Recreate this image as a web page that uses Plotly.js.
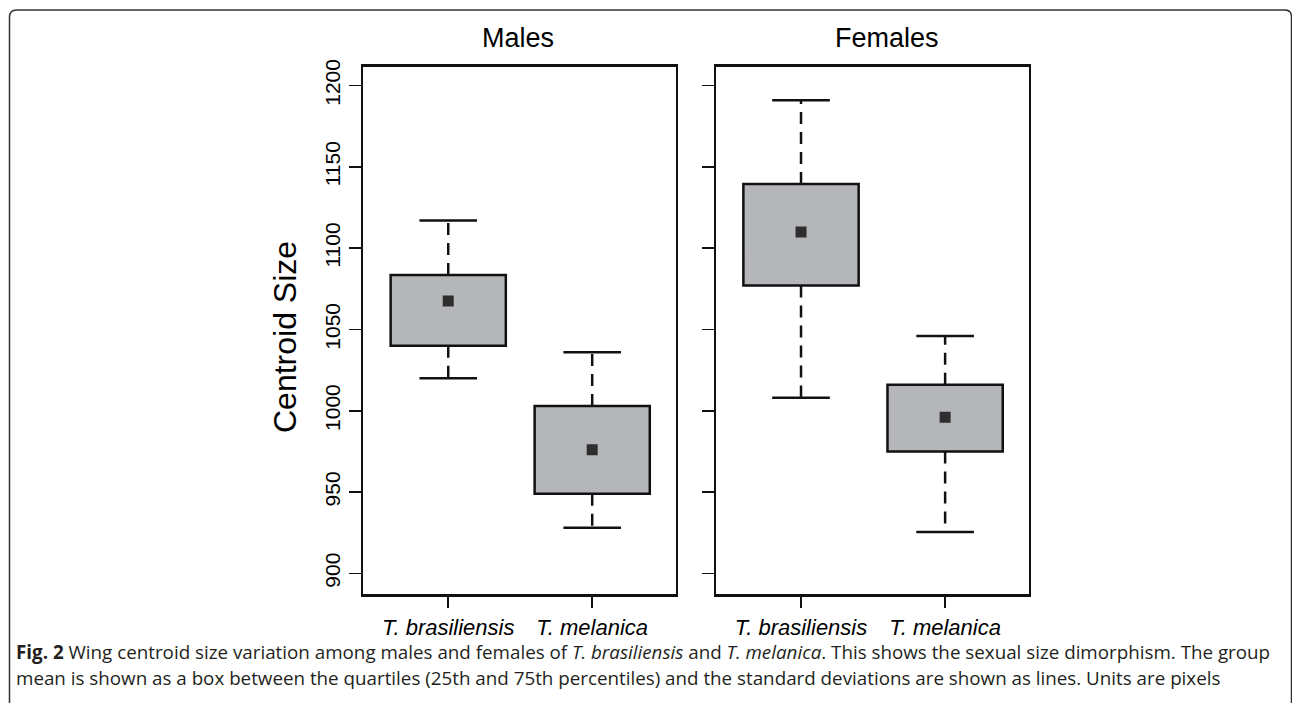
<!DOCTYPE html>
<html>
<head>
<meta charset="utf-8">
<script src="https://cdn.plot.ly/plotly-3.0.1.min.js"></script>
<style>
  html, body { margin: 0; padding: 0; background: #ffffff; }
  #chart { width: 1292px; height: 703px; }
</style>
</head>
<body>
<div id="chart"></div>
<script>
// ---- data ----
const species = ['T. brasiliensis', 'T. melanica'];
const speciesPos = [1, 2];
const yTicks = [900, 950, 1000, 1050, 1100, 1150, 1200];

const maleLower = [1020, 928];
const maleQ1    = [1040, 949];
const maleMean  = [1067.5, 976];
const maleQ3    = [1083.5, 1003];
const maleUpper = [1117, 1036];

const femaleLower = [1008, 925.5];
const femaleQ1    = [1077, 975];
const femaleMean  = [1110, 996];
const femaleQ3    = [1139.5, 1016];
const femaleUpper = [1191, 1046];

// ---- styling ----
const BOX_W = 0.8, CAP_HALF = 0.2;
const boxFill = '#b5b6b9';
const ink = '#111111';

function panelTraces(lower, q1, mean, q3, upper, xa, ya) {
  const wx = [], wy = [], cx = [], cy = [];
  speciesPos.forEach((p, i) => {
    wx.push(p, p, null, p, p, null);
    wy.push(q3[i], upper[i], null, q1[i], lower[i], null);
    cx.push(p - CAP_HALF, p + CAP_HALF, null, p - CAP_HALF, p + CAP_HALF, null);
    cy.push(upper[i], upper[i], null, lower[i], lower[i], null);
  });
  return [
    { type: 'bar', x: speciesPos, base: q1, y: q3.map((v, i) => v - q1[i]),
      width: BOX_W, xaxis: xa, yaxis: ya,
      marker: { color: boxFill, line: { color: ink, width: 2.5 } },
      hoverinfo: 'skip', showlegend: false },
    { type: 'scatter', mode: 'lines', x: wx, y: wy, xaxis: xa, yaxis: ya,
      line: { color: ink, width: 2.5, dash: '12px,8px' }, hoverinfo: 'skip', showlegend: false },
    { type: 'scatter', mode: 'lines', x: cx, y: cy, xaxis: xa, yaxis: ya,
      line: { color: ink, width: 2.5 }, hoverinfo: 'skip', showlegend: false },
    { type: 'scatter', mode: 'markers', x: speciesPos, y: mean, xaxis: xa, yaxis: ya,
      marker: { symbol: 'square', size: 11, color: '#2e2e2e' }, hoverinfo: 'skip', showlegend: false }
  ];
}

const data = [
  ...panelTraces(maleLower, maleQ1, maleMean, maleQ3, maleUpper, 'x', 'y'),
  ...panelTraces(femaleLower, femaleQ1, femaleMean, femaleQ3, femaleUpper, 'x2', 'y2')
];

const W = 1292, H = 703;
const px = v => v / W, py = v => 1 - v / H;

const xCommon = {
  range: [0.41, 2.58], tickmode: 'array', tickvals: speciesPos, ticktext: species,
  showline: true, linecolor: ink, linewidth: 2.5, mirror: true,
  ticks: 'outside', ticklen: 11, tickwidth: 1.5, tickcolor: ink,
  showgrid: false, zeroline: false, fixedrange: true,
  tickangle: 0, ticklabelstandoff: 1,
  tickfont: { family: 'Liberation Sans, Arial, sans-serif', size: 22, style: 'italic', color: '#000' }
};
const yCommon = {
  range: [887.3, 1211.6], tickmode: 'array', tickvals: yTicks,
  showline: true, linecolor: ink, linewidth: 2.5, mirror: true,
  ticks: 'outside', ticklen: 12, tickwidth: 1.5, tickcolor: ink,
  showgrid: false, zeroline: false, fixedrange: true,
  tickangle: -90,
  tickfont: { family: 'Liberation Sans, Arial, sans-serif', size: 21, color: '#000' },
  domain: [py(594), py(66.7)]
};

const capFont = { family: 'Open Sans, Noto Sans, sans-serif', size: 18.8, color: '#231f20' };

const layout = {
  width: W, height: H,
  margin: { l: 0, r: 0, t: 0, b: 0 },
  paper_bgcolor: '#ffffff', plot_bgcolor: '#ffffff',
  showlegend: false, bargap: 0,
  xaxis:  Object.assign({}, xCommon, { domain: [px(363.3), px(675.7)], anchor: 'y' }),
  xaxis2: Object.assign({}, xCommon, { domain: [px(716), px(1028.7)], anchor: 'y2' }),
  yaxis:  Object.assign({}, yCommon, { anchor: 'x' }),
  yaxis2: Object.assign({}, yCommon, { anchor: 'x2', showticklabels: false }),
  annotations: [
    { text: 'Males', xref: 'paper', yref: 'paper', x: px(518), y: py(38),
      xanchor: 'center', yanchor: 'middle', showarrow: false,
      font: { family: 'Liberation Sans, Arial, sans-serif', size: 27, color: '#000' } },
    { text: 'Females', xref: 'paper', yref: 'paper', x: px(887), y: py(38),
      xanchor: 'center', yanchor: 'middle', showarrow: false,
      font: { family: 'Liberation Sans, Arial, sans-serif', size: 27, color: '#000' } },
    { text: 'Centroid Size', xref: 'paper', yref: 'paper', x: px(285), y: py(337),
      xanchor: 'center', yanchor: 'middle', textangle: -90, showarrow: false,
      font: { family: 'Liberation Sans, Arial, sans-serif', size: 32, color: '#000' } },
    { text: '<b>Fig. 2</b> Wing centroid size variation among males and females of <i>T. brasiliensis</i> and <i>T. melanica</i>. This shows the sexual size dimorphism. The group',
      xref: 'paper', yref: 'paper', x: px(14), y: py(652), xanchor: 'left', yanchor: 'middle',
      showarrow: false, align: 'left', font: capFont },
    { text: 'mean is shown as a box between the quartiles (25th and 75th percentiles) and the standard deviations are shown as lines. Units are pixels',
      xref: 'paper', yref: 'paper', x: px(14), y: py(678), xanchor: 'left', yanchor: 'middle',
      showarrow: false, align: 'left', font: capFont }
  ],
  shapes: [
    { type: 'path', xref: 'paper', yref: 'paper',
      path: `M ${px(9.5)} ${py(703)} L ${px(9.5)} ${py(17)} Q ${px(9.5)} ${py(10)} ${px(16.5)} ${py(10)} L ${px(1285)} ${py(10)} Q ${px(1291.5)} ${py(10)} ${px(1291.5)} ${py(17)} L ${px(1291.5)} ${py(703)}`,
      line: { color: '#333333', width: 1.5 } }
  ]
};

Plotly.newPlot('chart', data, layout, { displayModeBar: false, staticPlot: true });
</script>
</body>
</html>
